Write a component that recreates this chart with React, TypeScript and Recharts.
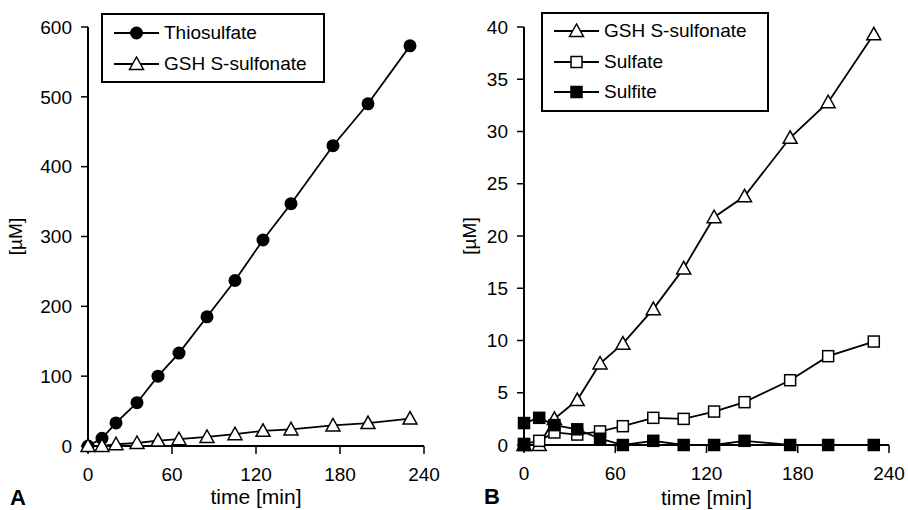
import React from 'react'
import { LineChart, Line, XAxis, YAxis, Legend } from 'recharts'

// sampling times in minutes
const times = [0, 10, 20, 35, 50, 65, 85, 105, 125, 145, 175, 200, 230]
const thiosulfate = [0, 11, 33, 62, 100, 133, 185, 237, 295, 347, 430, 490, 573]
const gshSulfonate = [0, 0, 2.5, 4.3, 7.8, 9.7, 13, 16.9, 21.8, 23.8, 29.4, 32.8, 39.3]
const sulfate = [0.1, 0.4, 1.2, 1.0, 1.3, 1.8, 2.6, 2.5, 3.2, 4.1, 6.2, 8.5, 9.9]
const sulfiteTimes = [0, 0, 10, 20, 35, 50, 65, 85, 105, 125, 145, 175, 200, 230]
const sulfite = [0, 2.1, 2.6, 1.9, 1.5, 0.6, 0, 0.4, 0, 0, 0.4, 0, 0, 0]

const xTicks = [0, 60, 120, 180, 240]
const yTicksA = [0, 100, 200, 300, 400, 500, 600]
const yTicksB = [0, 5, 10, 15, 20, 25, 30, 35, 40]

const dataA = times.map((t, i) => ({ t, thio: thiosulfate[i], gsh: gshSulfonate[i] }))
const dataB = times.map((t, i) => ({ t, gsh: gshSulfonate[i], sulfate: sulfate[i] }))
const sulfiteData = sulfiteTimes.map((t, i) => ({ t, sulfite: sulfite[i] }))

const FONT = '"Liberation Sans", Arial, sans-serif'
const tickStyle = { fontSize: 19, fill: '#000', fontFamily: FONT }

type Marker = 'circle' | 'triangle' | 'square' | 'filledSquare'

function drawMarker(kind: Marker, cx: number, cy: number, key?: any) {
  if (kind === 'circle') return <circle key={key} cx={cx} cy={cy} r={6.5} fill="#000" />
  if (kind === 'triangle')
    return (
      <polygon
        key={key}
        points={`${cx},${cy - 7} ${cx - 7},${cy + 5.5} ${cx + 7},${cy + 5.5}`}
        fill="#fff"
        stroke="#000"
        strokeWidth={1.5}
      />
    )
  return (
    <rect
      key={key}
      x={cx - 5.5}
      y={cy - 5.5}
      width={11}
      height={11}
      fill={kind === 'filledSquare' ? '#000' : '#fff'}
      stroke="#000"
      strokeWidth={1.5}
    />
  )
}

const dot = (kind: Marker) => (p: any) => drawMarker(kind, p.cx, p.cy, `${kind}-${p.index}`)

function LegendBox({ items, width, rowHeight }: { items: { name: string; marker: Marker }[]; width: number; rowHeight: number }) {
  return (
    <div
      style={{
        width,
        border: '2px solid #000',
        boxSizing: 'border-box',
        background: '#fff',
        padding: '2px 0 2px 11px',
        fontFamily: FONT,
        fontSize: 19,
      }}
    >
      {items.map((it) => (
        <div key={it.name} style={{ display: 'flex', alignItems: 'center', height: rowHeight }}>
          <svg width={45} height={16} style={{ marginRight: 5 }}>
            <line x1={0} y1={8} x2={45} y2={8} stroke="#000" strokeWidth={2} />
            {drawMarker(it.marker, 22.5, 8)}
          </svg>
          <span>{it.name}</span>
        </div>
      ))}
    </div>
  )
}

const legendA = [
  { name: 'Thiosulfate', marker: 'circle' as Marker },
  { name: 'GSH S-sulfonate', marker: 'triangle' as Marker },
]
const legendB = [
  { name: 'GSH S-sulfonate', marker: 'triangle' as Marker },
  { name: 'Sulfate', marker: 'square' as Marker },
  { name: 'Sulfite', marker: 'filledSquare' as Marker },
]

const axisLine = { stroke: '#000', strokeWidth: 2 }
const tickLine = { stroke: '#000', strokeWidth: 1.5 }
const titleStyle = { fontSize: 21, fill: '#000', fontFamily: FONT }

export default function App() {
  return (
    <div style={{ position: 'absolute', left: 0, top: 0, width: 908, height: 510, background: '#fff' }}>
      <div style={{ position: 'absolute', left: 0, top: 0 }}>
        <LineChart width={454} height={510} data={dataA} margin={{ top: 27, right: 30, bottom: 0, left: 0 }}>
          <XAxis
            dataKey="t"
            type="number"
            domain={[0, 240]}
            ticks={xTicks}
            height={64}
            tick={tickStyle}
            tickSize={8}
            tickMargin={14}
            axisLine={axisLine}
            tickLine={tickLine}
            label={{ value: 'time [min]', position: 'insideBottom', offset: 6, style: titleStyle }}
          />
          <YAxis
            type="number"
            domain={[0, 600]}
            ticks={yTicksA}
            width={88}
            tick={tickStyle}
            tickSize={7}
            tickMargin={9}
            axisLine={axisLine}
            tickLine={tickLine}
            label={{ value: '[µM]', angle: -90, position: 'insideLeft', offset: 15, style: { textAnchor: 'middle', fontSize: 19, fill: '#000', fontFamily: FONT } }}
          />
          <Legend
            layout="vertical"
            align="center"
            verticalAlign="middle"
            wrapperStyle={{ left: 101, top: 13, width: 224 }}
            content={() => <LegendBox items={legendA} width={224} rowHeight={31} />}
          />
          <Line dataKey="thio" name="Thiosulfate" stroke="#000" strokeWidth={1.8} dot={dot('circle')} isAnimationActive={false} />
          <Line dataKey="gsh" name="GSH S-sulfonate" stroke="#000" strokeWidth={1.8} dot={dot('triangle')} isAnimationActive={false} />
        </LineChart>
      </div>
      <div style={{ position: 'absolute', left: 454, top: 0 }}>
        <LineChart width={454} height={510} data={dataB} margin={{ top: 27, right: 19, bottom: 0, left: 0 }}>
          <XAxis
            dataKey="t"
            type="number"
            domain={[0, 240]}
            ticks={xTicks}
            height={65}
            tick={tickStyle}
            tickSize={8}
            tickMargin={14}
            axisLine={axisLine}
            tickLine={tickLine}
            label={{ value: 'time [min]', position: 'insideBottom', offset: 5, style: titleStyle }}
          />
          <YAxis
            type="number"
            domain={[0, 40]}
            ticks={yTicksB}
            width={70}
            tick={tickStyle}
            tickSize={7}
            tickMargin={9}
            axisLine={axisLine}
            tickLine={tickLine}
            label={{ value: '[µM]', angle: -90, position: 'insideLeft', offset: 15, style: { textAnchor: 'middle', fontSize: 19, fill: '#000', fontFamily: FONT } }}
          />
          <Legend
            layout="vertical"
            align="center"
            verticalAlign="middle"
            wrapperStyle={{ left: 87, top: 12, width: 228 }}
            content={() => <LegendBox items={legendB} width={228} rowHeight={30.5} />}
          />
          <Line dataKey="gsh" name="GSH S-sulfonate" stroke="#000" strokeWidth={1.8} dot={dot('triangle')} isAnimationActive={false} />
          <Line dataKey="sulfate" name="Sulfate" stroke="#000" strokeWidth={1.8} dot={dot('square')} isAnimationActive={false} />
          <Line data={sulfiteData} dataKey="sulfite" name="Sulfite" stroke="#000" strokeWidth={1.8} dot={dot('filledSquare')} isAnimationActive={false} />
        </LineChart>
      </div>
      <svg width={908} height={510} style={{ position: 'absolute', left: 0, top: 0, pointerEvents: 'none' }}>
        <text x={10} y={505} fontSize={22} fontWeight="bold" fontFamily={FONT}>A</text>
        <text x={484} y={504} fontSize={22} fontWeight="bold" fontFamily={FONT}>B</text>
      </svg>
    </div>
  )
}
